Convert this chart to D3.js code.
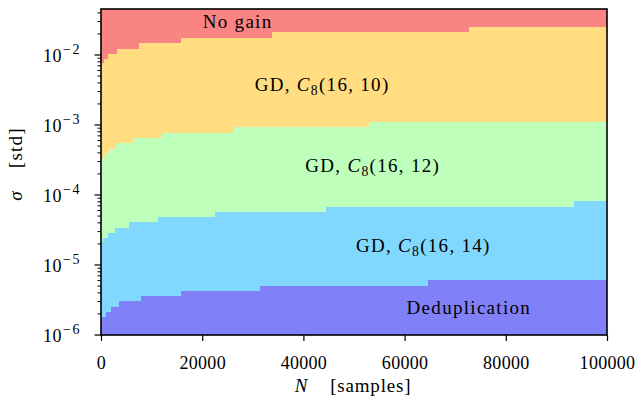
<!DOCTYPE html>
<html>
<head>
<meta charset="utf-8">
<script src="https://cdn.jsdelivr.net/npm/d3@7"></script>
<style>
  html, body { margin: 0; padding: 0; background: #fff; }
  svg { display: block; }
  text { font-family: "Liberation Serif", "DejaVu Serif", serif; fill: #000; }
</style>
</head>
<body>
<svg id="chart" width="642" height="400"></svg>
<script>
// ---- data ----
// Upper boundary of each region: step functions sigma(N)
const dedupTopN      = [0, 250, 1070, 1980, 3600, 7810, 15870, 31360, 64650, 100000];
const dedupTopSigma  = [1.68e-6, 1.82e-6, 2.15e-6, 2.54e-6, 3.06e-6, 3.61e-6, 4.25e-6, 5.06e-6, 6.04e-6, 6.04e-6];

const gd14TopN       = [0, 300, 1330, 2830, 5500, 11240, 22450, 44550, 93470, 100000];
const gd14TopSigma   = [2.1e-5, 2.40e-5, 2.84e-5, 3.41e-5, 4.07e-5, 4.85e-5, 5.77e-5, 6.81e-5, 8.20e-5, 8.20e-5];

const gd12TopN       = [0, 250, 750, 1540, 2770, 6290, 12110, 26270, 53000, 100000];
const gd12TopSigma   = [2.9e-4, 3.34e-4, 3.94e-4, 4.54e-4, 5.48e-4, 6.46e-4, 7.61e-4, 9.27e-4, 1.114e-3, 1.114e-3];

const gd10TopN       = [0, 250, 630, 1420, 3260, 7480, 15870, 33870, 72710, 100000];
const gd10TopSigma   = [7.0e-3, 7.6e-3, 8.69e-3, 1.033e-2, 1.219e-2, 1.469e-2, 1.766e-2, 2.11e-2, 2.49e-2, 2.49e-2];

const regionNames    = ["No gain", "GD, C8(16,10)", "GD, C8(16,12)", "GD, C8(16,14)", "Deduplication"];
const xTickValues    = [0, 20000, 40000, 60000, 80000, 100000];
const yTickExponents = [-6, -5, -4, -3, -2];
const xDomain        = [0, 100000];
const yDomain        = [1e-6, 0.0454];

// label anchor points (data coordinates: N, sigma at baseline)
const labelN         = [27000, 43700, 53700, 63700, 72700];
const labelSigma     = [0.0241, 3.09e-3, 2.15e-4, 1.55e-5, 2.0e-6];

// ---- layout ----
const svg = d3.select("#chart");
const W = 642, H = 400;
const margin = {left: 101, right: W - 607, top: 9, bottom: H - 335};
const x = d3.scaleLinear().domain(xDomain).range([margin.left, W - margin.right]);
const y = d3.scaleLog().domain(yDomain).range([H - margin.bottom, margin.top]);

const colors = ["#fa8484", "#ffdd80", "#bdffbb", "#80d8ff", "#8080f8"];

// No gain: fills everything, others painted on top
svg.append("rect")
  .attr("x", x(xDomain[0])).attr("y", y(yDomain[1]))
  .attr("width", x(xDomain[1]) - x(xDomain[0]))
  .attr("height", y(yDomain[0]) - y(yDomain[1]))
  .attr("fill", colors[0]);

const bounds = [
  [gd10TopN, gd10TopSigma],
  [gd12TopN, gd12TopSigma],
  [gd14TopN, gd14TopSigma],
  [dedupTopN, dedupTopSigma]
];
bounds.forEach(([ns, ss], i) => {
  const pts = ns.map((n, k) => [n, ss[k]]);
  const area = d3.area()
    .x(d => x(d[0]))
    .y0(y(yDomain[0]))
    .y1(d => y(d[1]))
    .curve(d3.curveStepAfter);
  svg.append("path").datum(pts)
    .attr("d", area)
    .attr("fill", colors[i + 1])
    .attr("shape-rendering", "crispEdges");
});

// labels
const FS = 18, LFS = 19, LS = 1.3;
function mathLabel(g, name, cx, cy) {
  const t = g.append("text").attr("x", cx).attr("y", cy)
    .attr("text-anchor", "middle").attr("font-size", LFS)
    .attr("letter-spacing", LS);
  const m = name.match(/^GD, C8\((\d+),(\d+)\)$/);
  if (!m) { t.text(name); return; }
  t.append("tspan").text("GD, ");
  t.append("tspan").attr("font-style", "italic").text("C");
  t.append("tspan").attr("font-size", LFS * 0.72).attr("dy", 4).text("8");
  t.append("tspan").attr("dy", -4).text("(" + m[1] + ", " + m[2] + ")");
}
const lg = svg.append("g");
regionNames.forEach((nm, i) => mathLabel(lg, nm, x(labelN[i]), y(labelSigma[i])));

// axes
const xAxis = d3.axisBottom(x).tickValues(xTickValues).tickSize(6).tickPadding(6)
  .tickFormat(d3.format("d"));
const gx = svg.append("g").attr("transform", `translate(0,${H - margin.bottom})`).call(xAxis);
gx.select(".domain").remove();
gx.selectAll("line").attr("stroke", "#000").attr("stroke-width", 1.2);
gx.selectAll("text").attr("font-size", FS).attr("font-family", "Liberation Serif")
  .attr("dy", "1.2em").attr("letter-spacing", 0.3);

// y axis: major + minor ticks
const gy = svg.append("g").attr("transform", `translate(${margin.left},0)`);
const minorVals = [];
for (let e = -6; e <= -2; e++) for (let k = 2; k <= 9; k++) {
  const v = k * Math.pow(10, e);
  if (v <= yDomain[1]) minorVals.push(v);
}
gy.selectAll("line.minor").data(minorVals).enter().append("line")
  .attr("x1", -3.5).attr("x2", 0)
  .attr("y1", d => y(d)).attr("y2", d => y(d))
  .attr("stroke", "#000").attr("stroke-width", 1);
const majVals = yTickExponents.map(e => Math.pow(10, e));
gy.selectAll("line.major").data(majVals).enter().append("line")
  .attr("x1", -6.5).attr("x2", 0)
  .attr("y1", d => y(d)).attr("y2", d => y(d))
  .attr("stroke", "#000").attr("stroke-width", 1.2);
yTickExponents.forEach(e => {
  const t = gy.append("text").attr("x", -20).attr("y", y(Math.pow(10, e)) + 7)
    .attr("text-anchor", "end").attr("font-size", FS);
  t.append("tspan").attr("letter-spacing", 0.5).text("10");
  t.append("tspan").attr("font-size", 14).attr("dy", -8).attr("dx", 1)
    .attr("letter-spacing", 1.5).text("\u2212" + Math.abs(e));
});

// frame
svg.append("rect")
  .attr("x", x(xDomain[0])).attr("y", y(yDomain[1]))
  .attr("width", x(xDomain[1]) - x(xDomain[0]))
  .attr("height", y(yDomain[0]) - y(yDomain[1]))
  .attr("fill", "none").attr("stroke", "#000").attr("stroke-width", 1.6);

// axis titles
const xl = svg.append("text").attr("x", 353).attr("y", 392)
  .attr("text-anchor", "middle").attr("font-size", LFS).attr("letter-spacing", 0.8);
xl.append("tspan").attr("font-style", "italic").text("N");
xl.append("tspan").attr("dx", 22).text("[samples]");

const yl = svg.append("text").attr("transform", "translate(22,164) rotate(-90)")
  .attr("text-anchor", "middle").attr("font-size", LFS).attr("letter-spacing", 1.2);
yl.append("tspan").attr("font-style", "italic").text("\u03c3");
yl.append("tspan").attr("dx", 22).text("[std]");
</script>
</body>
</html>
